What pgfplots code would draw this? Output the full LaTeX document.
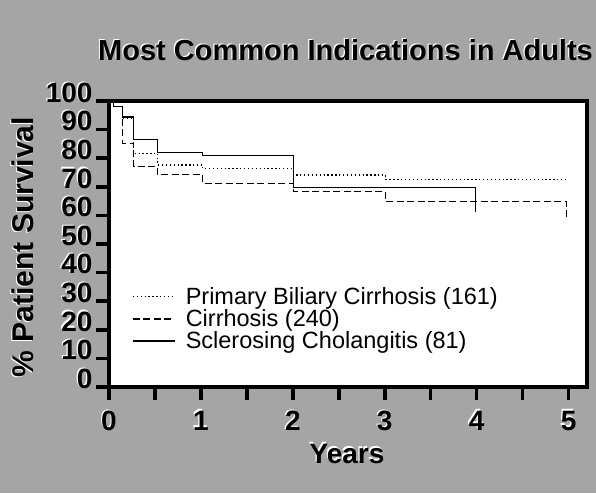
\documentclass[border=0pt]{standalone}
\usepackage{pgfplots}
\pgfplotsset{compat=1.18}
\usepackage{fontspec}
\setmainfont{Liberation Sans}
\definecolor{bg}{RGB}{165,165,165}
\newcommand\halo[1]{\leavevmode\rlap{\hspace{-1.2pt}\raisebox{1.2pt}{\color{white}#1}}#1}
\begin{document}
\begin{tikzpicture}[x=1pt,y=1pt]
\useasboundingbox (0,0) rectangle (596,493);
\clip (0,0) rectangle (596,493);
\fill[bg] (0,0) rectangle (596,493);
\begin{axis}[
  at={(109pt,106pt)}, anchor=south west, scale only axis,
  width=478pt, height=286pt,
  xmin=0, xmax=5.2, ymin=0, ymax=100,
  xtick={0,1,2,3,4,5}, minor xtick={0.5,1.5,2.5,3.5,4.5},
  ytick={0,10,...,100},
  axis background/.style={fill=white},
  axis line style={line width=4pt},
  tick style={line width=3.5pt, black},
  tick align=outside, major tick length=13pt, minor tick length=13pt,
  xtick pos=bottom, ytick pos=left,
  axis on top,
  /pgf/number format/assume math mode=true,
  ticklabel style={font=\fontsize{28}{28}\selectfont\bfseries},
  yticklabel style={yshift=9pt, xshift=0pt},
  xticklabel style={yshift=-6pt},
  xticklabel={\halo{\pgfmathprintnumber{\tick}}},
  yticklabel={\halo{\pgfmathprintnumber{\tick}}},
  clip=true,
  legend style={at={(axis cs:0.25,23.8)}, anchor=west, draw=none, fill=none,
    inner sep=0pt, row sep=3pt,
    font=\fontsize{23.5}{23.5}\selectfont,
    nodes={inner sep=0.3pt}},
  legend cell align=left,
  legend image code/.code={\draw[#1] (0pt,0pt) -- (42pt,0pt);},
  /tikz/every odd column/.append style={column sep=10pt},
]
\addplot[const plot, black, line width=1.3pt, dash pattern=on 1.3pt off 2.6pt]
coordinates {(0,100)(0.05,98)(0.15,94)(0.27,81.7)(0.53,77.6)(1.02,76.3)(2.01,74.1)(3.01,72.6)(4.97,72.6)};
\addlegendentry{Primary Biliary Cirrhosis (161)}
\addplot[const plot, black, line width=1.3pt, dash pattern=on 7pt off 3.5pt]
coordinates {(0,100)(0.05,98)(0.15,85.2)(0.27,77)(0.53,74.2)(1.02,71.1)(2.01,68.3)(3.01,64.8)(4.98,64.8)(4.98,58.4)};
\addlegendentry{Cirrhosis (240)}
\addplot[const plot, black, line width=1.3pt]
coordinates {(0,100)(0.05,98)(0.15,94.4)(0.27,86.6)(0.53,81.9)(1.02,81)(2.01,69.8)(3.99,69.8)(3.99,61.3)};
\addlegendentry{Sclerosing Cholangitis (81)}
\end{axis}
\node[anchor=west, font=\fontsize{29}{30}\selectfont\bfseries, inner sep=0pt] at (98,443) {\halo{Most Common Indications in Adults}};
\node[rotate=90, font=\fontsize{30}{31}\selectfont\bfseries, inner sep=0pt] at (22,246) {\halo{\% Patient Survival}};
\node[font=\fontsize{28}{28}\selectfont\bfseries, inner sep=0pt] at (347,40) {\halo{Years}};
\end{tikzpicture}
\end{document}
